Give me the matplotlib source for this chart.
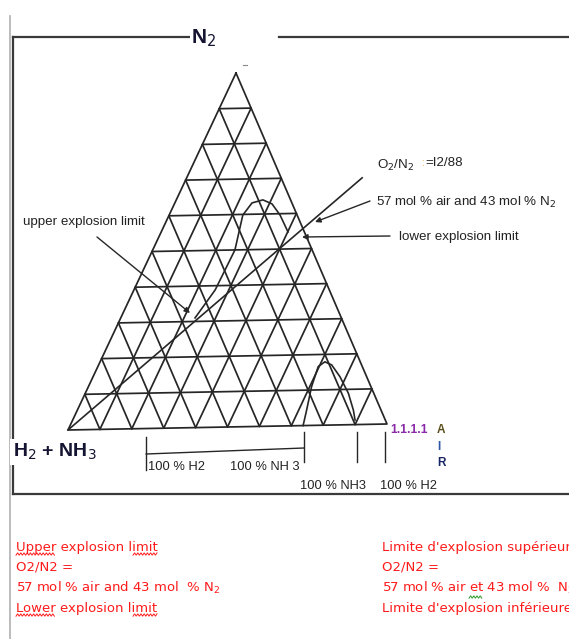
import matplotlib.pyplot as plt
import numpy as np

W, H = 569, 639
DPI = 100

# corners of the diagram in pixel space: N2 on top, H2 + NH3 left, AIR right
TOP = np.array([236.0, 73.0])
LEFT = np.array([68.0, 430.0])
RIGHT = np.array([387.0, 424.0])
N_DIV = 10

# compositions given as (N2 fraction, air fraction); the rest is H2 + NH3
upper_n2 = [0.310, 0.388, 0.500, 0.598, 0.632, 0.640, 0.628, 0.596, 0.548]
upper_air = [0.235, 0.257, 0.260, 0.233, 0.244, 0.274, 0.309, 0.351, 0.401]
nh3_n2 = [0.0, 0.044, 0.109, 0.166, 0.179, 0.170, 0.136, 0.089, 0.041, 0.013]
nh3_air = [0.737, 0.725, 0.706, 0.697, 0.711, 0.737, 0.781, 0.832, 0.873, 0.893]
ratio_n2 = [0.0, 0.697]
ratio_air = [0.0, 0.555]
base_marks = [0.245, 0.74, 0.905, 0.995]  # air fraction along the base

LINE = "#262626"
RED = "#ff1a1a"
NARROW = ["Liberation Sans Narrow", "Liberation Sans", "DejaVu Sans"]
ARIAL = ["Liberation Sans", "DejaVu Sans"]


def tern(n2, air):
    n2 = np.asarray(n2, dtype=float)
    air = np.asarray(air, dtype=float)
    x = LEFT[0] + air * (RIGHT[0] - LEFT[0]) + n2 * (TOP[0] - LEFT[0])
    y = LEFT[1] + air * (RIGHT[1] - LEFT[1]) + n2 * (TOP[1] - LEFT[1])
    return x, y


def seg(ax, p, q, **kw):
    ax.plot([p[0], q[0]], [p[1], q[1]], **kw)


def squiggle(ax, x0, x1, y, color):
    xs = np.arange(x0, x1 + 0.1, 1.6)
    ys = y + 1.2 * (-1.0) ** np.arange(len(xs))
    ax.plot(xs, ys, color=color, lw=0.7, solid_joinstyle="miter")


fig = plt.figure(figsize=(W / DPI, H / DPI), dpi=DPI)
ax = fig.add_axes([0, 0, 1, 1])
ax.set_xlim(0, W)
ax.set_ylim(H, 0)
ax.axis("off")

# page frame
ax.plot([10.5, 10.5], [16, H], color="#b0b0b0", lw=1.2)
ax.plot([13, 194], [37, 37], color="#3a3a3a", lw=1.6)
ax.plot([279, W], [37, 37], color="#3a3a3a", lw=1.6)
ax.plot([13, 13], [37, 494], color="#3a3a3a", lw=1.6)
ax.plot([13, W], [494, 494], color="#3a3a3a", lw=1.6)

# triangular grid
gkw = dict(color=LINE, lw=1.25, solid_capstyle="round")
for k in range(1, N_DIV):
    f = k / N_DIV
    seg(ax, tern(f, 0), tern(f, 1 - f), **gkw)
    seg(ax, tern(0, f), tern(1 - f, f), **gkw)
    seg(ax, tern(0, 1 - f), tern(1 - f, 0), **gkw)
xs, ys = tern([1, 0, 0, 1], [0, 0, 1, 0])
ax.plot(xs, ys, **gkw)
ax.plot([243, 247], [65, 65], color="#888888", lw=0.8)

# explosion limit curves and the O2/N2 line
ax.plot(*tern(upper_n2, upper_air), color=LINE, lw=1.2)
ax.plot(*tern(nh3_n2, nh3_air), color=LINE, lw=1.2)
ax.plot(*tern(ratio_n2, ratio_air), color=LINE, lw=1.2)

# base markers below the diagram
mx, my = tern(np.zeros(len(base_marks)), base_marks)
ax.plot([mx[0], mx[0]], [437, 470], color=LINE, lw=1.0)
ax.plot([mx[0], mx[1]], [454, 448], color=LINE, lw=1.0)
for x in mx[1:]:
    ax.plot([x, x], [432, 462], color=LINE, lw=1.0)

# corner labels
ax.text(204, 38, "N$_2$", fontsize=15, family=NARROW, weight="bold",
        color="#141432", ha="center", va="center",
        bbox=dict(facecolor="white", edgecolor="none", pad=1))
ax.text(13, 452, "H$_2$ + NH$_3$", fontsize=14, family=NARROW, weight="bold",
        color="#141432", ha="left", va="center",
        bbox=dict(facecolor="white", edgecolor="none", pad=2))

lkw = dict(fontsize=9.3, family=ARIAL, color="#222222", va="center")
ax.text(148, 467, "100 % H2", **lkw)
ax.text(230, 467, "100 % NH 3", **lkw)
ax.text(300, 486, "100 % NH3", **lkw)
ax.text(380, 486, "100 % H2", **lkw)
ax.text(390, 430, "1.1.1.1", fontsize=8.7, family=ARIAL, weight="bold",
        color="#8a2aa8", va="center")
ax.text(437, 430, "A", fontsize=8.5, family=ARIAL, weight="bold",
        color="#5c4f1c", va="center")
ax.text(437, 447, "I", fontsize=8.5, family=ARIAL, weight="bold",
        color="#2f55a8", va="center")
ax.text(437, 463, "R", fontsize=8.5, family=ARIAL, weight="bold",
        color="#1a2766", va="center")

# annotations
akw = dict(arrowstyle="-|>", color=LINE, lw=1.0, mutation_scale=8,
           shrinkA=0, shrinkB=0)
tkw = dict(fontsize=9.6, family=ARIAL, color="#222222", va="center")
ax.text(23, 222, "upper explosion limit", **tkw)
ax.annotate("", xy=(190, 313), xytext=(97, 237), arrowprops=akw)
ax.text(377, 165, "O$_2$/N$_2$", **tkw)
ax.text(421, 163, ":", fontsize=7, family=ARIAL, color="#e0a040", va="center")
ax.text(425, 163, "=I2/88", **tkw)
ax.text(376, 202, "57 mol % air and 43 mol % N$_2$", **tkw)
ax.annotate("", xy=(315, 222), xytext=(370, 201), arrowprops=akw)
ax.text(399, 237, "lower explosion limit", **tkw)
ax.annotate("", xy=(302, 237), xytext=(390, 236), arrowprops=akw)

# translated legend below the frame
rkw = dict(fontsize=9.5, family="DejaVu Sans", color=RED, va="center")
left_lines = ["Upper explosion limit", "O2/N2 =",
              "57 mol % air and 43 mol  % N$_2$", "Lower explosion limit"]
right_lines = ["Limite d'explosion supérieure", "O2/N2 =",
               "57 mol % air et 43 mol %  N$_2$", "Limite d'explosion inférieure"]
for i, (a, b) in enumerate(zip(left_lines, right_lines)):
    y = 547 + 20.5 * i
    ax.text(16, y, a, **rkw)
    ax.text(382, y, b, **rkw)
squiggle(ax, 16, 55, 554, RED)
squiggle(ax, 133, 157, 554, RED)
squiggle(ax, 16, 55, 615, RED)
squiggle(ax, 133, 157, 615, RED)
squiggle(ax, 469, 483, 597, "#2a9a2a")

fig.savefig("out.png", dpi=DPI)
